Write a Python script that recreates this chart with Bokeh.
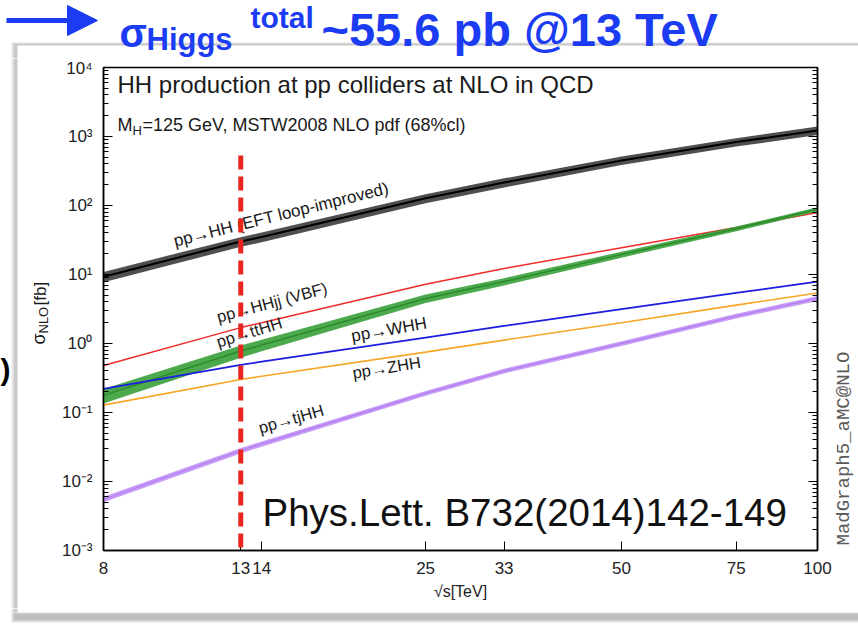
import math
from bokeh.plotting import figure
from bokeh.layouts import column, row
from bokeh.models import (FixedTicker, LogAxis, Label, Arrow, NormalHead,
                          BoxAnnotation, Range1d)
from bokeh.embed import file_html
from bokeh.resources import INLINE

# ---------------- data ----------------
energy = [8, 13, 14, 25, 33, 50, 75, 100]                   # sqrt(s) [TeV]
sigma_hh = [9.3, 30, 35, 127, 215, 450, 830, 1220]          # pp->HH (EFT loop-improved) [fb]
sigma_hhjj = [0.48, 1.7, 2.0, 7.2, 12.2, 24.5, 48, 79]      # pp->HHjj (VBF)
sigma_tthh = [0.177, 0.78, 0.95, 4.5, 7.9, 19.5, 46, 88]    # pp->ttHH
sigma_whh = [0.22, 0.49, 0.545, 1.22, 1.8, 3.15, 5.4, 7.9]  # pp->WHH
sigma_zhh = [0.128, 0.30, 0.335, 0.75, 1.12, 2.0, 3.6, 5.4]  # pp->ZHH
sigma_tjhh = [0.0055, 0.028, 0.035, 0.19, 0.40, 1.0, 2.5, 4.5]  # pp->tjHH
unc_hh = [0.17, 0.16, 0.16, 0.15, 0.15, 0.14, 0.14, 0.14]
unc_tthh = [0.24, 0.20, 0.19, 0.14, 0.12, 0.10, 0.08, 0.07]
unc_tjhh = [0.09, 0.09, 0.09, 0.08, 0.08, 0.08, 0.08, 0.08]

x_ticks = [8, 13, 14, 25, 33, 50, 75, 100]
y_exponents = [-3, -2, -1, 0, 1, 2, 3, 4]
marker_energy = 13           # red dashed line at 13 TeV
marker_top = 530             # fb, where the dashed line starts
marker_bottom = 10 ** -3.6   # runs down past the axis

BLUE = "#1b3cf2"
FONT = "Liberation Sans"
INK = "#1a1a1a"
W, H = 858, 624
TOP_H, LEFT_W, RIGHT_W, BOT_H = 58, 54, 26, 16
MAIN_W, MAIN_H = W - LEFT_W - RIGHT_W, H - TOP_H - BOT_H
BIAS = 0.19   # descent below the baseline, as a fraction of the font size


def no_align(f):
    try:
        f.frame_align = False
    except Exception:
        pass


def anchor(X, Y, size, deg):
    """window position of a text baseline start -> position of its 'bottom' anchor"""
    th = math.radians(deg)
    b = BIAS * size
    return X + b * math.sin(th), Y + b * math.cos(th)


def blank(width, height, x0, x1, y0, y1):
    # strip whose data coordinates are window pixels (x right, y = H - window_y)
    f = figure(width=width, height=height, x_range=Range1d(x0, x1),
               y_range=Range1d(H - y1, H - y0), output_backend="svg",
               toolbar_location=None, x_axis_location=None, y_axis_location=None,
               min_border=0, outline_line_color=None, background_fill_color="white",
               border_fill_color="white")
    f.xgrid.grid_line_color = None
    f.ygrid.grid_line_color = None
    no_align(f)
    return f


def box(f, l, r, t, b, color):
    f.add_layout(BoxAnnotation(left=l, right=r, top=H - t, bottom=H - b, fill_color=color,
                               fill_alpha=1, line_color=None, level="underlay"))


def slab(f, text, X, Y, size, deg=0, color=INK, font=FONT, style="normal"):
    ax, ay = anchor(X, Y, size, deg)
    f.add_layout(Label(x=ax, y=H - ay, text=text, angle=math.radians(deg),
                       text_font=font, text_font_style=style,
                       text_font_size=f"{size}px", text_color=color,
                       text_baseline="bottom", text_align="left"))


# ---------------- top strip: title ----------------
top = blank(W, TOP_H, 0, W, 0, TOP_H)
box(top, 11, W, 42, TOP_H, "#e6e6e6")
box(top, 13, W, 43, TOP_H, "#c9c9c9")
box(top, 17, W, 45, TOP_H, "white")

slab(top, "σ", 119, 47, 40, color=BLUE, style="bold")
slab(top, "Higgs", 146, 51, 31, color=BLUE, style="bold")
slab(top, "total", 250, 28, 30, color=BLUE, style="bold")
slab(top, "~55.6 pb @13 TeV", 321, 47, 47, color=BLUE, style="bold")
top.add_layout(Arrow(x_start=6, y_start=H - 20, x_end=97, y_end=H - 20, line_color=BLUE,
                     line_width=5,
                     end=NormalHead(size=30, fill_color=BLUE, line_color=BLUE)))

# ---------------- left strip: y label ----------------
left = blank(LEFT_W, MAIN_H, 0, LEFT_W, TOP_H, TOP_H + MAIN_H)
box(left, 11, 13, TOP_H, TOP_H + MAIN_H, "#e6e6e6")
box(left, 13, 17, TOP_H, TOP_H + MAIN_H, "#c9c9c9")

slab(left, "σ", 45, 344, 18, 90)
slab(left, "NLO", 48, 333, 13, 90)
slab(left, "[fb]", 46, 305, 17, 90)
slab(left, ")", 0, 380, 30, style="bold", color="black")

# ---------------- right strip: generator tag ----------------
right = blank(RIGHT_W, MAIN_H, W - RIGHT_W, W, TOP_H, TOP_H + MAIN_H)
slab(right, "MadGraph5_aMC@NLO", 851, 545, 19, 90, color="#5a5a5a",
     font="Liberation Mono")

# ---------------- bottom strip: slide shadow ----------------
bottom = blank(W, BOT_H, 0, W, H - BOT_H, H)
box(bottom, 11, 13, H - BOT_H, 613, "#e6e6e6")
box(bottom, 13, 17, H - BOT_H, 613, "#c9c9c9")
box(bottom, 11, W, 612, 622, "#e0e0e0")
box(bottom, 13, W, 613, 620, "#bfbfbf")

# ---------------- main plot ----------------
FX0, FX1, FY0, FY1 = 103, 817, 67, 550
p = figure(width=MAIN_W, height=MAIN_H, x_axis_type="log", y_axis_type="log",
           x_range=Range1d(8, 100), y_range=Range1d(1e-3, 1e4),
           output_backend="svg", toolbar_location=None,
           min_border_left=FX0 - LEFT_W, min_border_right=W - RIGHT_W - FX1,
           min_border_top=FY0 - TOP_H, min_border_bottom=TOP_H + MAIN_H - FY1,
           background_fill_color="white", border_fill_color="white")
no_align(p)
p.xgrid.grid_line_color = None
p.ygrid.grid_line_color = None
p.outline_line_color = "black"
p.outline_line_width = 1.5

sup = str.maketrans("-0123456789", "⁻⁰¹²³⁴⁵⁶⁷⁸⁹")
y_major = [10.0 ** k for k in y_exponents]
y_minor = [m * 10.0 ** k for k in y_exponents[:-1] for m in range(2, 10)]
y_ticker = FixedTicker(ticks=y_major, minor_ticks=y_minor)

ya = p.yaxis[0]
ya.ticker = y_ticker
ya.major_label_overrides = {10.0 ** k: "10" + str(k).translate(sup) for k in y_exponents}
xa = p.xaxis[0]
xa.ticker = FixedTicker(ticks=x_ticks, minor_ticks=[])
xa.major_label_overrides = {t: str(t) for t in x_ticks}
xa.axis_label = "√s[TeV]"
xa.axis_label_text_font = FONT
xa.axis_label_text_font_style = "normal"
xa.axis_label_text_font_size = "16px"
xa.axis_label_text_color = "#222222"
xa.axis_label_standoff = 6

for ax in (xa, ya):
    ax.axis_line_color = "black"
    ax.axis_line_width = 1.5
    ax.major_tick_in = 9
    ax.major_tick_out = 0
    ax.minor_tick_in = 5
    ax.minor_tick_out = 0
    ax.major_tick_line_color = "black"
    ax.minor_tick_line_color = "black"
    ax.major_label_text_font = FONT
    ax.major_label_text_font_size = "17px"
    ax.major_label_text_color = "#222222"
    ax.major_label_standoff = 11

ra = LogAxis(ticker=y_ticker, major_tick_in=9, major_tick_out=0, minor_tick_in=5,
             minor_tick_out=0, axis_line_width=1.5, major_label_text_font_size="0px",
             major_label_standoff=0)
ra.major_label_overrides = {v: "" for v in y_major}
p.add_layout(ra, "right")


# ---------------- curves ----------------
def band(vals, unc):
    lo = [v * (1 - u) for v, u in zip(vals, unc)]
    hi = [v * (1 + u) for v, u in zip(vals, unc)]
    return lo, hi


lo, hi = band(sigma_hh, unc_hh)
p.varea(x=energy, y1=lo, y2=hi, fill_color="#3c3c3c", fill_alpha=0.9)
p.line(energy, sigma_hh, line_color="black", line_width=2)

p.line(energy, sigma_hhjj, line_color="#ef2b2b", line_width=1.5)

lo, hi = band(sigma_tthh, unc_tthh)
p.varea(x=energy, y1=lo, y2=hi, fill_color="#3aa03a", fill_alpha=0.9)
p.line(energy, sigma_tthh, line_color="#2a8c2a", line_width=1.5)

p.line(energy, sigma_whh, line_color="#1d1de0", line_width=1.8)
p.line(energy, sigma_zhh, line_color="#f6a625", line_width=1.6)

lo, hi = band(sigma_tjhh, unc_tjhh)
p.varea(x=energy, y1=lo, y2=hi, fill_color="#c49af7", fill_alpha=0.95)
p.line(energy, sigma_tjhh, line_color="#b57ff2", line_width=1.5)


# ---------------- texts inside the plot (frame-relative screen units) ----------------
def lab(text, X, Y, size, deg=0, color=INK):
    ax, ay = anchor(X, Y, size, deg)
    p.add_layout(Label(x=ax - FX0, y=FY1 - ay, x_units="screen", y_units="screen",
                       text=text, angle=math.radians(deg), text_font=FONT,
                       text_font_size=f"{size}px", text_color=color,
                       text_baseline="bottom", text_align="left"))


lab("pp→HH (EFT loop-improved)", 175, 247, 17, 14)
lab("pp→HHjj (VBF)", 218, 322, 16.5, 15)
lab("pp→ttHH", 218, 347, 16.5, 17)
lab("pp→WHH", 352, 342, 17, 10)
lab("pp→ZHH", 353, 378, 16.5, 9)
lab("pp→tjHH", 260, 433, 16.5, 16)

lab("HH production at pp colliders at NLO in QCD", 117, 93, 24)
lab("M", 117, 131, 18)
lab("H", 132, 135, 13)
lab("=125 GeV, MSTW2008 NLO pdf (68%cl)", 142, 131, 18)
lab("Phys.Lett. B732(2014)142-149", 262, 526, 38.5, color="#111111")

# red dashed 13 TeV marker
p.add_layout(Arrow(x_start=marker_energy, y_start=marker_top,
                   x_end=marker_energy, y_end=marker_bottom, end=None,
                   line_color="#e8261e", line_width=5, line_dash="14 7",
                   level="overlay"))

layout = column(top, row(left, p, right), bottom)
open("out.html", "w").write(file_html(layout, INLINE))
